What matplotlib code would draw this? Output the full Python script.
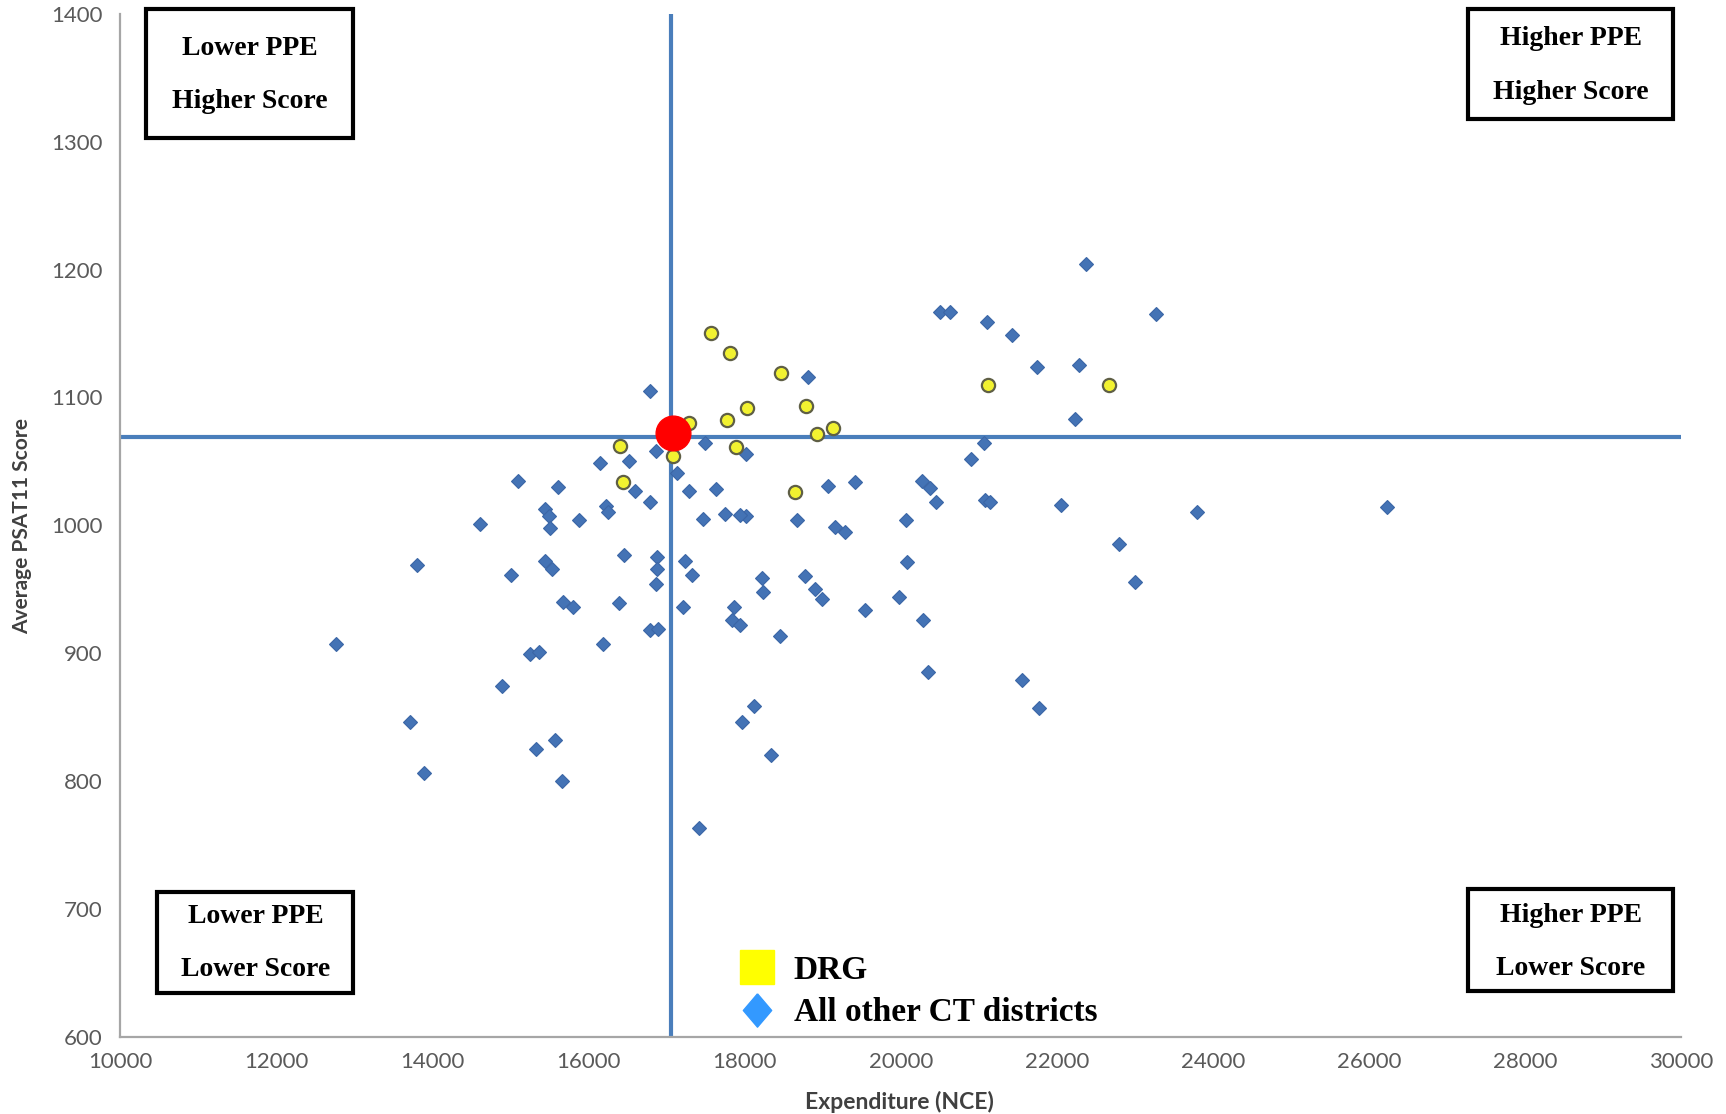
import matplotlib
matplotlib.use("Agg")
import matplotlib.pyplot as plt
from matplotlib.lines import Line2D
from matplotlib.patches import Rectangle

# all other CT districts (expenditure, average PSAT11 score)
other_x = [16785, 18808, 20500, 20627, 21107, 21431, 21749, 22278, 22371, 23265,
           22235, 21065, 20905, 19414, 19062, 20275, 20373, 20451, 21079, 21149,
           22048, 20072, 23790, 26227, 22792, 22997, 20075, 19541, 19979, 20281,
           20345, 21558, 21770, 19161, 19288, 18667, 18013, 17939, 17743, 17468,
           17637, 17292, 17496, 18013, 17130, 16862, 16785, 16594, 16516, 16148,
           16223, 16247, 15874, 15606, 15094, 15437, 15486, 15508, 14605, 13795,
           15007, 15446, 15529, 16455, 16880, 16880, 16862, 17235, 17324, 17210,
           16392, 15677, 15797, 16185, 16791, 16884, 17862, 17842, 17934, 18227,
           18237, 18766, 18900, 18984, 18455, 18123, 17962, 18334, 17417, 12766,
           14887, 15254, 15367, 15331, 15571, 15663, 13716, 13886]
other_y = [1105, 1116, 1167, 1167, 1159, 1149, 1124, 1125, 1204, 1165,
           1083, 1064, 1052, 1034, 1031, 1035, 1029, 1018, 1020, 1018,
           1016, 1004, 1010, 1014, 985, 956, 971, 934, 944, 926,
           885, 879, 857, 999, 995, 1004, 1007, 1008, 1009, 1005,
           1028, 1027, 1064, 1056, 1041, 1058, 1018, 1027, 1050, 1049,
           1015, 1010, 1004, 1030, 1035, 1013, 1007, 998, 1001, 969,
           961, 972, 966, 977, 975, 966, 954, 972, 961, 936,
           939, 940, 936, 907, 918, 919, 936, 926, 922, 959,
           948, 960, 950, 942, 913, 859, 846, 820, 763, 907,
           874, 899, 901, 825, 832, 800, 846, 806]

# DRG districts
drg_x = [17567, 17815, 18470, 18780, 18032, 17778, 17292, 19125, 18921, 16396,
         17891, 17080, 16439, 18639, 21121, 22673]
drg_y = [1150, 1135, 1119, 1093, 1092, 1082, 1080, 1076, 1071, 1062,
         1061, 1054, 1034, 1026, 1110, 1110]

# highlighted district and the reference lines through it
focus_x, focus_y = 17080, 1072
ref_x, ref_y = 17060, 1069

x_ticks = list(range(10000, 30001, 2000))
y_ticks = list(range(600, 1401, 100))

W, H = 1568, 1012  # reference layout grid used for annotation placement


def fx(px):
    return px / W


def fy(py):
    return 1 - py / H


fig = plt.figure(figsize=(17.26, 11.14), dpi=100)
ax = fig.add_axes([0.0698, 0.0694, 0.9042, 0.9182])

ax.axvline(ref_x, color="#4A7EBB", lw=3, zorder=1)
ax.axhline(ref_y, color="#4A7EBB", lw=3, zorder=1)

ax.plot(other_x, other_y, ls="none", marker="D", ms=7.3, mfc="#4473B5",
        mec="#3B66A6", mew=0.8, zorder=2)
ax.plot(drg_x, drg_y, ls="none", marker="o", ms=9.5, mfc="#F2F230",
        mec="#5F5F45", mew=1.6, zorder=3)
ax.plot([focus_x], [focus_y], ls="none", marker="o", ms=25, mfc="#FF0000",
        mec="#FF0000", zorder=4)

ax.set_xlim(10000, 30000)
ax.set_ylim(600, 1400)
ax.set_xticks(x_ticks)
ax.set_yticks(y_ticks)
for s in ["top", "right"]:
    ax.spines[s].set_visible(False)
for s in ["left", "bottom"]:
    ax.spines[s].set_color("#A6A6A6")
    ax.spines[s].set_linewidth(1.6)
ax.tick_params(length=0, labelsize=16, labelcolor="#5A5A5A")
ax.tick_params(axis="x", pad=11)
ax.tick_params(axis="y", pad=13)
for t in ax.get_xticklabels() + ax.get_yticklabels():
    t.set_family("Lato")

ax.set_xlabel("Expenditure (NCE)", family="Lato", fontweight="bold",
              fontsize=16.5, color="#404040")
ax.set_ylabel("Average PSAT11 Score", family="Lato", fontweight="bold",
              fontsize=15, color="#404040")
ax.xaxis.set_label_coords((fx(817) - 0.0698) / 0.9042, (fy(991) - 0.0694) / 0.9182)
ax.yaxis.set_label_coords((fx(29) - 0.0698) / 0.9042, (fy(478) - 0.0694) / 0.9182)

# quadrant boxes: (left, top, right, bottom, line1, line2)
boxes = [
    (133, 8, 321, 125, "Lower PPE", "Higher Score", 44, 92),
    (1334, 8, 1520, 108, "Higher PPE", "Higher Score", 35, 84),
    (143, 810, 321, 902, "Lower PPE", "Lower Score", 833, 881),
    (1334, 808, 1520, 900, "Higher PPE", "Lower Score", 832, 880),
]
bfont = dict(family="Liberation Serif", fontweight="bold", fontsize=20,
             color="black", ha="center", va="center")
for l, t, r, b, s1, s2, y1, y2 in boxes:
    fig.patches.append(Rectangle((fx(l), fy(b)), fx(r) - fx(l), fy(t) - fy(b),
                                 transform=fig.transFigure, fill=True,
                                 fc="white", ec="black", lw=3, zorder=5))
    cx = fx((l + r) / 2)
    fig.text(cx, fy(y1), s1, zorder=6, **bfont)
    fig.text(cx, fy(y2), s2, zorder=6, **bfont)

diamond = [(0, 1), (0.85, 0), (0, -1), (-0.85, 0), (0, 1)]
handles = [
    Line2D([], [], ls="none", marker="s", ms=24, mfc="#FFFF00", mec="#FFFF00"),
    Line2D([], [], ls="none", marker=diamond, ms=24, mfc="#3399FF", mec="#3399FF"),
]
leg = ax.legend(handles, ["DRG", "All other CT districts"], loc="upper left",
                bbox_to_anchor=(fx(656), fy(852)), bbox_transform=fig.transFigure,
                frameon=False, borderpad=0, handletextpad=0.55, labelspacing=0.35,
                handlelength=1.1,
                prop=dict(family="Liberation Serif", weight="bold", size=24))

fig.savefig("out.png", dpi=100)
